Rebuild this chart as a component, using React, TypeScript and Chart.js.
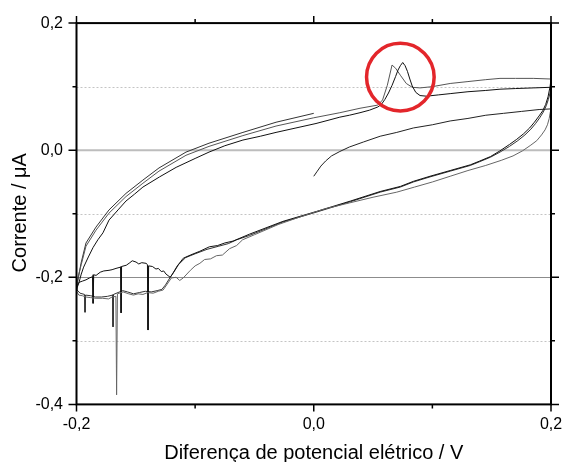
import React, { useEffect, useRef } from 'react';
import { Chart, registerables } from 'chart.js';

Chart.register(...registerables);

// ---- Axis definitions ----
const xMin = -0.2;
const xMax = 0.2;
const yMin = -0.4;
const yMax = 0.2;
const xMajorTicks = [-0.2, 0, 0.2];
const xMinorTicks = [-0.1, 0.1];
const yMajorTicks = [0.2, 0, -0.2, -0.4];
const yMinorTicks = [0.1, -0.1, -0.3];
const solidGrid = [0, -0.2];
const dottedGrid = [0.1, -0.1, -0.3];

const xTitle = 'Diferença de potencial elétrico / V';
const yTitle = 'Corrente / μA';

// ---- Initial sweep 0.0 -> 0.2 V ----
const s0V = [0.0, 0.003, 0.006, 0.01, 0.015, 0.022, 0.03, 0.042, 0.056, 0.07, 0.084, 0.1, 0.115, 0.13, 0.145, 0.16, 0.175, 0.19, 0.2];
const s0I = [-0.041, -0.033, -0.025, -0.017, -0.009, -0.002, 0.005, 0.013, 0.022, 0.028, 0.035, 0.04, 0.046, 0.05, 0.055, 0.058, 0.061, 0.064, 0.065];

// ---- Reverse sweep 1 ----
const rev1V = [0.2, 0.1992, 0.1985, 0.197, 0.195, 0.192, 0.188, 0.183, 0.176, 0.168, 0.158, 0.145, 0.13, 0.115, 0.1, 0.085, 0.07, 0.05, 0.03, 0.01, -0.01, -0.03, -0.05, -0.06, -0.065, -0.071, -0.077, -0.082, -0.087, -0.092, -0.096, -0.1, -0.104, -0.11, -0.113, -0.116, -0.12, -0.124, -0.127, -0.131, -0.1354, -0.14, -0.144, -0.148, -0.152, -0.156, -0.1607, -0.1655, -0.1662, -0.1668, -0.17, -0.173, -0.178, -0.1835, -0.188, -0.192, -0.195, -0.198, -0.2];
const rev1I = [0.065, 0.058, 0.05, 0.04, 0.032, 0.024, 0.015, 0.008, -0.001, -0.009, -0.016, -0.024, -0.032, -0.041, -0.05, -0.058, -0.066, -0.074, -0.083, -0.092, -0.104, -0.117, -0.133, -0.141, -0.15, -0.155, -0.165, -0.166, -0.171, -0.172, -0.178, -0.182, -0.189, -0.201, -0.205, -0.2, -0.201, -0.212, -0.22, -0.222, -0.225, -0.224, -0.227, -0.226, -0.228, -0.226, -0.223, -0.226, -0.385, -0.23, -0.231, -0.234, -0.233, -0.233, -0.232, -0.231, -0.229, -0.228, -0.222];

// ---- Forward sweep 1 ----
const fwd1V = [-0.2, -0.1996, -0.198, -0.196, -0.194, -0.19, -0.186, -0.182, -0.1777, -0.1726, -0.165, -0.1583, -0.151, -0.144, -0.13, -0.116, -0.1, -0.0883, -0.075, -0.0597, -0.045, -0.0318, -0.015, 0.0019, 0.012, 0.022, 0.03, 0.039, 0.047, 0.054, 0.057, 0.06, 0.063, 0.066, 0.069, 0.071, 0.073, 0.075, 0.077, 0.079, 0.081, 0.083, 0.086, 0.0896, 0.095, 0.105, 0.115, 0.13, 0.145, 0.157, 0.17, 0.185, 0.2];
const fwd1I = [-0.222, -0.217, -0.209, -0.195, -0.184, -0.168, -0.153, -0.141, -0.13, -0.11, -0.094, -0.08, -0.069, -0.058, -0.042, -0.027, -0.013, -0.003, 0.007, 0.016, 0.022, 0.028, 0.035, 0.042, 0.047, 0.052, 0.055, 0.059, 0.063, 0.068, 0.072, 0.08, 0.09, 0.102, 0.116, 0.126, 0.133, 0.138, 0.133, 0.124, 0.112, 0.101, 0.091, 0.086, 0.085, 0.087, 0.089, 0.092, 0.094, 0.096, 0.097, 0.098, 0.099];

// ---- Reverse sweep 2 ----
const rev2V = [0.2, 0.1992, 0.1975, 0.1955, 0.193, 0.19, 0.186, 0.182, 0.177, 0.171, 0.165, 0.157, 0.149, 0.14, 0.132, 0.115, 0.098, 0.084, 0.073, 0.056, 0.031, 0.003, -0.026, -0.054, -0.068, -0.075, -0.081, -0.088, -0.096, -0.104, -0.11, -0.115, -0.1195, -0.121, -0.1245, -0.1265, -0.1285, -0.131, -0.133, -0.136, -0.1392, -0.1397, -0.1402, -0.1414, -0.145, -0.1475, -0.1498, -0.153, -0.155, -0.158, -0.162, -0.1624, -0.1628, -0.1667, -0.17, -0.1726, -0.177, -0.18, -0.1835, -0.1855, -0.186, -0.1865, -0.189, -0.192, -0.195, -0.198, -0.2];
const rev2I = [0.112, 0.1, 0.084, 0.072, 0.062, 0.054, 0.044, 0.035, 0.026, 0.017, 0.009, -0.001, -0.01, -0.017, -0.023, -0.032, -0.041, -0.049, -0.057, -0.065, -0.08, -0.096, -0.112, -0.132, -0.143, -0.146, -0.15, -0.152, -0.159, -0.165, -0.17, -0.182, -0.196, -0.2, -0.195, -0.19, -0.191, -0.186, -0.187, -0.183, -0.182, -0.283, -0.18, -0.178, -0.177, -0.179, -0.176, -0.174, -0.177, -0.181, -0.183, -0.256, -0.184, -0.186, -0.188, -0.189, -0.19, -0.192, -0.197, -0.196, -0.241, -0.199, -0.201, -0.204, -0.206, -0.208, -0.215];

// ---- Forward sweep 2 ----
const fwd2V = [-0.2, -0.1994, -0.1985, -0.196, -0.192, -0.1836, -0.1726, -0.1583, -0.144, -0.1305, -0.1077, -0.0883, -0.0597, -0.0318, 0.0, 0.022, 0.039, 0.054, 0.058, 0.062, 0.066, 0.069, 0.073, 0.078, 0.083, 0.0896, 0.1, 0.115, 0.13, 0.145, 0.157, 0.17, 0.185, 0.2];
const fwd2I = [-0.215, -0.208, -0.198, -0.18, -0.151, -0.126, -0.099, -0.073, -0.052, -0.033, -0.008, 0.006, 0.023, 0.038, 0.051, 0.059, 0.066, 0.071, 0.079, 0.102, 0.134, 0.129, 0.118, 0.105, 0.099, 0.098, 0.1, 0.105, 0.108, 0.111, 0.113, 0.113, 0.113, 0.112];

// ---- Reverse sweep 3 ----
const rev3V = [0.2, 0.1992, 0.1978, 0.196, 0.1935, 0.1905, 0.187, 0.183, 0.178, 0.172, 0.165, 0.157, 0.149, 0.14, 0.132, 0.115, 0.098, 0.084, 0.073, 0.056, 0.031, 0.003, -0.026, -0.054, -0.065, -0.072, -0.08, -0.09, -0.1, -0.108, -0.114, -0.118, -0.121, -0.125, -0.128, -0.132, -0.137, -0.142, -0.147, -0.152, -0.157, -0.161, -0.165, -0.1688, -0.1692, -0.1696, -0.174, -0.179, -0.184, -0.188, -0.1924, -0.1928, -0.1932, -0.197, -0.2];
const rev3I = [0.099, 0.09, 0.08, 0.07, 0.06, 0.051, 0.042, 0.033, 0.024, 0.015, 0.006, -0.003, -0.011, -0.018, -0.024, -0.033, -0.042, -0.05, -0.058, -0.066, -0.081, -0.097, -0.113, -0.134, -0.141, -0.147, -0.151, -0.156, -0.163, -0.169, -0.18, -0.192, -0.2, -0.212, -0.219, -0.221, -0.223, -0.222, -0.224, -0.226, -0.223, -0.221, -0.224, -0.227, -0.278, -0.228, -0.23, -0.231, -0.231, -0.229, -0.228, -0.255, -0.227, -0.225, -0.219];

// ---- Forward sweep 3 (ends at 0.0 V) ----
const fwd3V = [-0.2, -0.1996, -0.1987, -0.1962, -0.192, -0.1836, -0.1726, -0.1583, -0.144, -0.1305, -0.1077, -0.0883, -0.0597, -0.0318, 0.0];
const fwd3I = [-0.219, -0.212, -0.204, -0.178, -0.146, -0.121, -0.094, -0.068, -0.047, -0.028, -0.003, 0.011, 0.028, 0.044, 0.058];

// ---- Highlight circle (data units) ----
const circleCenterV = 0.073;
const circleCenterI = 0.115;
const circleRadiusV = 0.0285;

const FONT = '"Liberation Sans", Arial, sans-serif';

const zip = (xs: number[], ys: number[]) => xs.map((x, i) => ({ x, y: ys[i] }));

const series = [
  { v: s0V, i: s0I, color: '#222' },
  { v: rev1V, i: rev1I, color: '#666' },
  { v: fwd1V, i: fwd1I, color: '#111' },
  { v: rev2V, i: rev2I, color: '#111' },
  { v: fwd2V, i: fwd2I, color: '#555' },
  { v: rev3V, i: rev3I, color: '#333' },
  { v: fwd3V, i: fwd3I, color: '#333' },
];

const fmt = (v: number) => Number(v).toFixed(1).replace('.', ',');

const framePlugin = {
  id: 'framePlugin',
  beforeDatasetsDraw(chart: any) {
    const { ctx, chartArea } = chart;
    const ys = chart.scales.y;
    ctx.save();
    dottedGrid.forEach((v) => {
      const py = Math.round(ys.getPixelForValue(v)) + 0.5;
      ctx.beginPath();
      ctx.setLineDash([2, 2]);
      ctx.strokeStyle = '#c4c4c4';
      ctx.lineWidth = 1;
      ctx.moveTo(chartArea.left, py);
      ctx.lineTo(chartArea.right, py);
      ctx.stroke();
    });
    ctx.setLineDash([]);
    solidGrid.forEach((v) => {
      const py = ys.getPixelForValue(v);
      ctx.beginPath();
      ctx.strokeStyle = v === 0 ? '#bdbdbd' : '#8c8c8c';
      ctx.lineWidth = v === 0 ? 2 : 1;
      ctx.moveTo(chartArea.left, v === 0 ? py : Math.round(py) + 0.5);
      ctx.lineTo(chartArea.right, v === 0 ? py : Math.round(py) + 0.5);
      ctx.stroke();
    });
    ctx.restore();
  },
  afterDraw(chart: any) {
    const { ctx, chartArea } = chart;
    const xs = chart.scales.x;
    const ys = chart.scales.y;
    const { left, right, top, bottom } = chartArea;
    ctx.save();
    // red highlight circle
    const cx = xs.getPixelForValue(circleCenterV);
    const cy = ys.getPixelForValue(circleCenterI);
    const r = xs.getPixelForValue(circleCenterV + circleRadiusV) - cx;
    ctx.beginPath();
    ctx.strokeStyle = '#e3262b';
    ctx.lineWidth = 3.5;
    ctx.arc(cx, cy, r, 0, Math.PI * 2);
    ctx.stroke();

    // frame
    ctx.strokeStyle = '#000';
    ctx.lineWidth = 2;
    ctx.strokeRect(left, top, right - left, bottom - top);

    // ticks
    ctx.lineWidth = 1.5;
    const tickX = (v: number, len: number) => {
      const px = xs.getPixelForValue(v);
      ctx.beginPath();
      ctx.moveTo(px, bottom);
      ctx.lineTo(px, bottom + len);
      ctx.moveTo(px, top);
      ctx.lineTo(px, top - len);
      ctx.stroke();
    };
    const tickY = (v: number, len: number) => {
      const py = ys.getPixelForValue(v);
      ctx.beginPath();
      ctx.moveTo(left, py);
      ctx.lineTo(left - len, py);
      ctx.moveTo(right, py);
      ctx.lineTo(right + len, py);
      ctx.stroke();
    };
    xMajorTicks.forEach((v) => tickX(v, 7));
    xMinorTicks.forEach((v) => tickX(v, 4));
    yMajorTicks.forEach((v) => tickY(v, 8));
    yMinorTicks.forEach((v) => tickY(v, 4));

    // axis titles
    ctx.fillStyle = '#000';
    ctx.font = `20px ${FONT}`;
    ctx.textAlign = 'center';
    ctx.textBaseline = 'alphabetic';
    ctx.fillText(xTitle, (left + right) / 2, 459);
    ctx.translate(26, (top + bottom) / 2 - 1);
    ctx.rotate(-Math.PI / 2);
    ctx.fillText(yTitle, 0, 0);
    ctx.restore();
  },
};

export default function App() {
  const ref = useRef<HTMLCanvasElement | null>(null);
  useEffect(() => {
    const canvas = ref.current;
    if (!canvas) return;
    const chart = new Chart(canvas, {
      type: 'scatter',
      data: {
        datasets: series.map((s) => ({
          data: zip(s.v, s.i),
          showLine: true,
          borderColor: s.color,
          backgroundColor: s.color,
          borderWidth: 1,
          pointRadius: 0,
          pointHoverRadius: 0,
          tension: 0,
        })),
      },
      options: {
        responsive: false,
        animation: false,
        devicePixelRatio: 1,
        layout: { padding: { top: 22.8, right: 12, bottom: 0, left: 0 } },
        plugins: { legend: { display: false }, tooltip: { enabled: false } },
        scales: {
          x: {
            type: 'linear',
            min: xMin,
            max: xMax,
            grid: { display: false, drawTicks: true, tickLength: 11 },
            border: { display: false },
            afterBuildTicks: (s: any) => {
              s.ticks = xMajorTicks.map((v) => ({ value: v }));
            },
            afterFit: (s: any) => {
              s.height = 57.6;
            },
            ticks: {
              padding: 0,
              color: '#000',
              font: { family: FONT, size: 16 },
              maxRotation: 0,
              autoSkip: false,
              callback: (v: any) => fmt(v),
            },
          },
          y: {
            type: 'linear',
            min: yMin,
            max: yMax,
            grid: { display: false, drawTicks: false },
            border: { display: false },
            afterBuildTicks: (s: any) => {
              s.ticks = yMajorTicks.map((v) => ({ value: v }));
            },
            afterFit: (s: any) => {
              s.width = 76.5;
            },
            ticks: {
              padding: 13.5,
              color: '#000',
              font: { family: FONT, size: 16 },
              autoSkip: false,
              callback: (v: any) => fmt(v),
            },
          },
        },
      },
      plugins: [framePlugin],
    });
    return () => chart.destroy();
  }, []);
  return (
    <div style={{ position: 'fixed', left: 0, top: 0, width: 563, height: 462, background: '#fff' }}>
      <canvas ref={ref} width={563} height={462} style={{ width: 563, height: 462, display: 'block' }} />
    </div>
  );
}
